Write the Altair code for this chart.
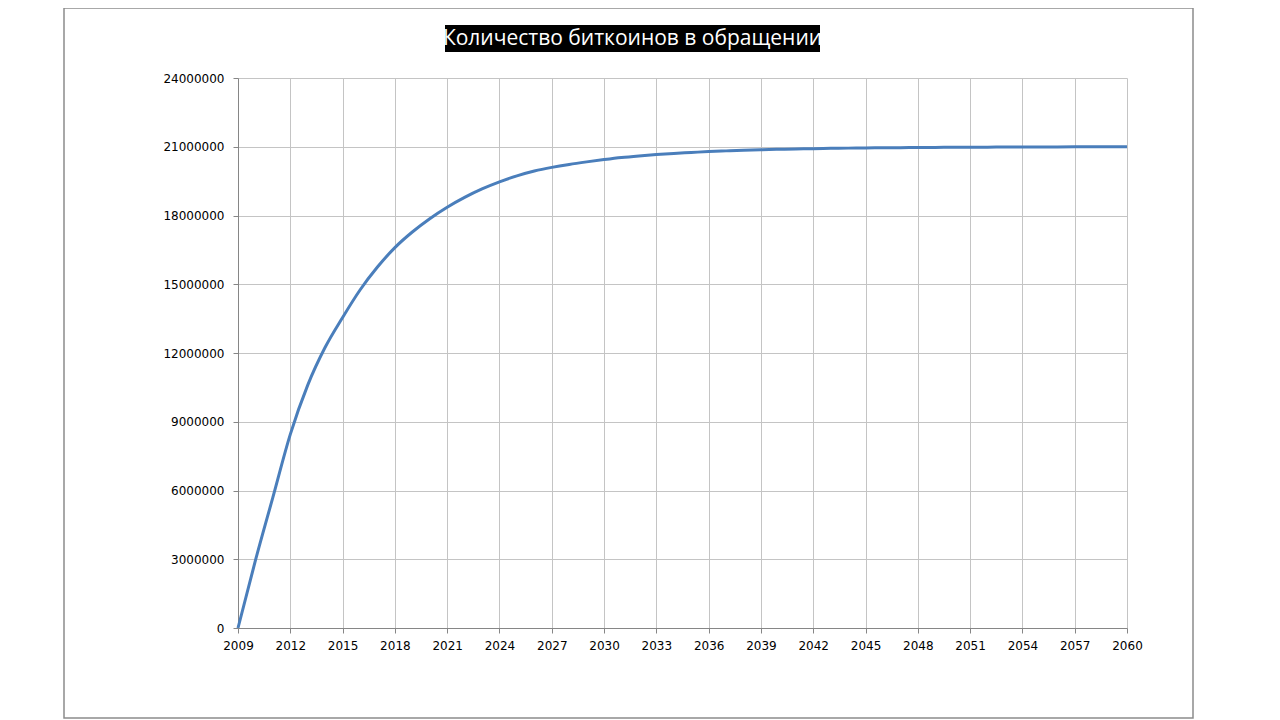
import altair as alt
import pandas as pd

title_text = "Количество биткоинов в обращении"

years = list(range(2009, 2061))
supply_millions = [
    0.0, 2.95, 5.7, 8.45, 10.6, 12.25, 13.55, 14.75, 15.75, 16.6,
    17.28, 17.86, 18.36, 18.79, 19.16, 19.47, 19.73, 19.94, 20.1, 20.23,
    20.34, 20.44, 20.53, 20.6, 20.66, 20.71, 20.75, 20.79, 20.82, 20.85,
    20.87, 20.89, 20.905, 20.918, 20.93, 20.94, 20.948, 20.955, 20.961, 20.966,
    20.971, 20.975, 20.979, 20.983, 20.986, 20.989, 20.991, 20.993, 20.995, 20.997,
    20.998, 20.999,
]
x_ticks = list(range(2009, 2061, 3))
y_ticks = list(range(0, 24000001, 3000000))

df = pd.DataFrame({"year": years, "supply": [v * 1_000_000 for v in supply_millions]})

W, H = 889, 550

line = alt.Chart(df).mark_line(color="#4A7EBB", strokeWidth=3, interpolate="monotone").encode(
    x=alt.X("year:Q", scale=alt.Scale(domain=[2009, 2060], nice=False, zero=False),
            axis=alt.Axis(values=x_ticks, format="d", title=None, labelFlush=False,
                          labelFont="DejaVu Sans", labelFontSize=12, labelColor="#000000",
                          labelPadding=7, domainColor="#868686", tickColor="#868686",
                          tickSize=5, gridColor="#C4C4C4")),
    y=alt.Y("supply:Q", scale=alt.Scale(domain=[0, 24000000], nice=False),
            axis=alt.Axis(values=y_ticks, format="d", title=None,
                          labelFont="DejaVu Sans", labelFontSize=12, labelColor="#000000",
                          labelPadding=9, domainColor="#868686", tickColor="#868686",
                          tickSize=5, gridColor="#C4C4C4")),
)

one = pd.DataFrame({"t": [title_text]})

frame = alt.Chart(one).mark_rect(fill="transparent", stroke="#8C8C8C", strokeWidth=1.5).encode(
    x=alt.value(-174), x2=alt.value(955), y=alt.value(-70), y2=alt.value(640)
)

title_bg = alt.Chart(one).mark_rect(fill="black").encode(
    x=alt.value(207), x2=alt.value(582), y=alt.value(-53), y2=alt.value(-26)
)

title = alt.Chart(one).mark_text(color="white", font="Open Sans", fontSize=21,
                                  align="center", baseline="middle").encode(
    x=alt.value(394.5), y=alt.value(-39.5), text="t:N"
)

chart = alt.layer(frame, line, title_bg, title).properties(
    width=W, height=H,
    autosize=alt.AutoSizeParams(type="none"),
    padding={"left": 230, "top": 70, "right": 90, "bottom": 92},
).configure_view(stroke=None).configure_axis(domainWidth=1, tickWidth=1, gridWidth=1)

chart.save("out.html", embed_options={"renderer": "svg", "actions": False})
